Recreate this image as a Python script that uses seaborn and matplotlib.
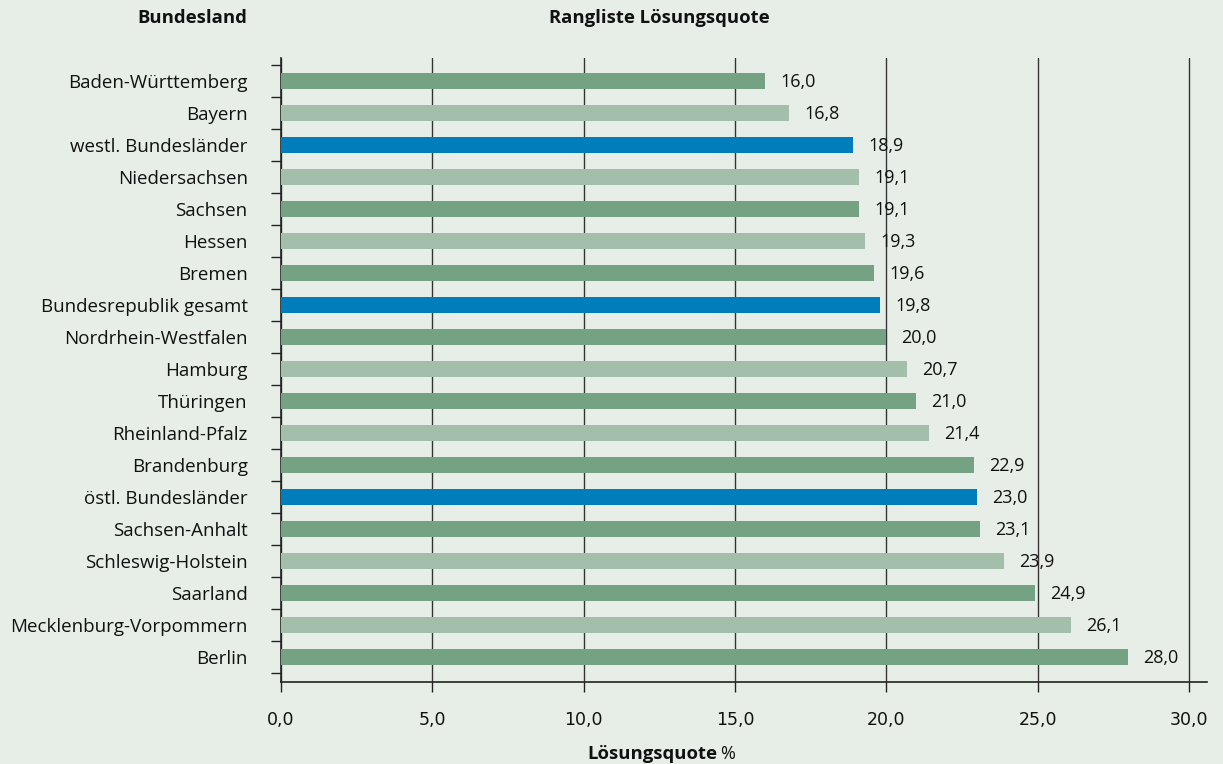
import matplotlib
matplotlib.use("Agg")
import matplotlib.pyplot as plt
import seaborn as sns
from matplotlib.ticker import FixedLocator, MultipleLocator

laender = [
    "Baden-Württemberg", "Bayern", "westl. Bundesländer", "Niedersachsen",
    "Sachsen", "Hessen", "Bremen", "Bundesrepublik gesamt",
    "Nordrhein-Westfalen", "Hamburg", "Thüringen", "Rheinland-Pfalz",
    "Brandenburg", "östl. Bundesländer", "Sachsen-Anhalt",
    "Schleswig-Holstein", "Saarland", "Mecklenburg-Vorpommern", "Berlin",
]
quote = [16.0, 16.8, 18.9, 19.1, 19.1, 19.3, 19.6, 19.8, 20.0, 20.7,
         21.0, 21.4, 22.9, 23.0, 23.1, 23.9, 24.9, 26.1, 28.0]
gruppen = {"westl. Bundesländer", "Bundesrepublik gesamt", "östl. Bundesländer"}

BG = "#e7eee7"
DARK_GREEN = "#74a283"
LIGHT_GREEN = "#a3bfab"
BLUE = "#007dbb"
INK = "#111111"

sns.set_theme(style="white")
plt.rcParams["font.family"] = ["Open Sans", "DejaVu Sans"]

farben = []
for i, name in enumerate(laender):
    if name in gruppen:
        farben.append(BLUE)
    elif i % 2 == 0:
        farben.append(DARK_GREEN)
    else:
        farben.append(LIGHT_GREEN)

fig = plt.figure(figsize=(12.23, 7.64), dpi=100)
fig.patch.set_facecolor(BG)
ax = fig.add_axes([281 / 1223, 1 - 682 / 764, 926 / 1223, 624 / 764])
ax.set_facecolor(BG)

sns.barplot(x=quote, y=laender, hue=laender, palette=farben, legend=False,
            orient="h", width=0.5, ax=ax, zorder=3, saturation=1, linewidth=0)

ax.set_xlim(0, 30.6)
ax.set_ylim(18.78, -0.72)

# grid and axes
ax.xaxis.set_major_locator(MultipleLocator(5))
ax.grid(axis="x", color="#333333", linewidth=1.0, zorder=0)
ax.grid(axis="y", visible=False)
ax.set_xticklabels([f"{v:.1f}".replace(".", ",") for v in ax.get_xticks()],
                   fontsize=12.5, family=["DejaVu Sans"], color=INK)
ax.tick_params(axis="x", direction="out", length=7, width=1, color="#222222",
               pad=14, bottom=True)
ax.yaxis.set_minor_locator(FixedLocator([i - 0.5 for i in range(len(laender) + 1)]))
ax.tick_params(axis="y", which="minor", direction="out", length=7, width=1,
               color="#222222", left=True)
ax.tick_params(axis="y", which="major", length=0, labelsize=13.5, pad=24,
               labelcolor=INK)
for s in ["top", "right"]:
    ax.spines[s].set_visible(False)
for s in ["left", "bottom"]:
    ax.spines[s].set_color("#222222")
    ax.spines[s].set_linewidth(1.2)
ax.set_xlabel("")
ax.set_ylabel("")

for i, v in enumerate(quote):
    ax.text(v + 0.5, i + 0.03, f"{v:.1f}".replace(".", ","), va="center",
            ha="left", fontsize=13, color=INK, zorder=4)

fig.text(247 / 1223, 1 - 18 / 764, "Bundesland", ha="right", va="center",
         fontsize=13.3, fontweight="bold", color=INK)
fig.text(659 / 1223, 1 - 18 / 764, "Rangliste Lösungsquote", ha="center",
         va="center", fontsize=13.3, fontweight="bold", color=INK)
fig.text(717 / 1223, 1 - 754 / 764, "Lösungsquote", ha="right", va="center",
         fontsize=13.3, fontweight="bold", color=INK)
fig.text(720 / 1223, 1 - 754 / 764, "%", ha="left", va="center",
         fontsize=13, color=INK)

fig.savefig("out.png", dpi=100, facecolor=BG)
